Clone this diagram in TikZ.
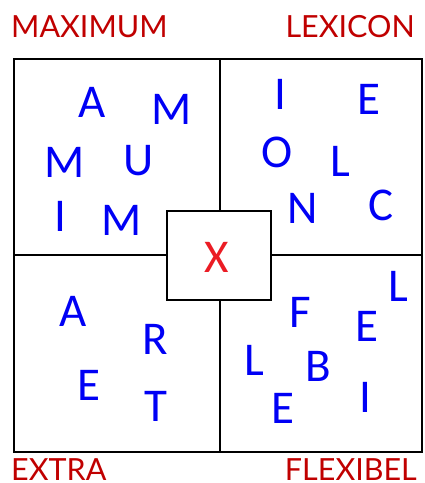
\documentclass[tikz,border=0pt]{standalone}
\usepackage{fontspec}
\setmainfont{Carlito}
\newfontfamily\titlefont{Lato}
\usetikzlibrary{positioning}

\definecolor{titlered}{RGB}{192,0,0}
\definecolor{xred}{RGB}{235,28,36}
\definecolor{letterblue}{RGB}{0,0,245}

\begin{document}
\begin{tikzpicture}[
  x=1pt, y=-1pt,
  frame/.style={draw, line width=2.8pt, line join=miter},
  letter/.style={inner sep=0pt, text=letterblue, font=\fontsize{47}{47}\selectfont},
  title/.style={inner sep=0pt, text=titlered, font=\titlefont\fontsize{30.5}{30.5}\selectfont},
  centre/.style={frame, fill=white, minimum width=104pt, minimum height=89pt}
]
  \useasboundingbox (0,0) rectangle (424,483);

  % quadrant grid
  \coordinate (nw) at (14,59);
  \coordinate (se) at (422,452);
  \draw[frame] (nw) rectangle (se);
  \draw[frame] (220,59) -- (220,452);
  \draw[frame] (14,255) -- (422,255);

  % centre box
  \node[centre] (mid) at (219,255.5) {};
  \node[inner sep=0pt, text=xred, font=\fontsize{47}{47}\selectfont] (x) at (217,257) {X};

  % titles
  \node[title, anchor=base west] (maximum) at (11,37) {MAXIMUM};
  \node[title, anchor=base east] (lexicon) at (415,37) {LEXICON};
  \node[title, anchor=base west] (extra) at (11,480.5) {EXTRA};
  \node[title, anchor=base east] (flexibel) at (417,480.5) {FLEXIBEL};

  % top left: MAXIMUM
  \node[letter] (tlA)  at (92,102) {A};
  \node[letter] (tlM1) at (172,109) {M};
  \node[letter] (tlM2) at (65,162) {M};
  \node[letter] (tlU)  at (139,161) {U};
  \node[letter] (tlI)  at (60,216) {I};
  \node[letter] (tlM3) at (122,220) {M};

  % top right: LEXICON
  \node[letter] (trI) at (280,94) {I};
  \node[letter] (trE) at (369,99) {E};
  \node[letter] (trO) at (277,152) {O};
  \node[letter] (trL) at (340,161) {L};
  \node[letter] (trN) at (303,208) {N};
  \node[letter] (trC) at (381,205) {C};

  % bottom left: EXTRA
  \node[letter] (blA) at (73,311) {A};
  \node[letter] (blR) at (155,339) {R};
  \node[letter] (blE) at (89,385) {E};
  \node[letter] (blT) at (156,406) {T};

  % bottom right: FLEXIBEL
  \node[letter] (brL1) at (398,286) {L};
  \node[letter] (brF)  at (300,312) {F};
  \node[letter] (brE1) at (367,326) {E};
  \node[letter] (brL2) at (254,360) {L};
  \node[letter] (brB)  at (318,366) {B};
  \node[letter] (brE2) at (283,408) {E};
  \node[letter] (brI)  at (365,397) {I};
\end{tikzpicture}
\end{document}
